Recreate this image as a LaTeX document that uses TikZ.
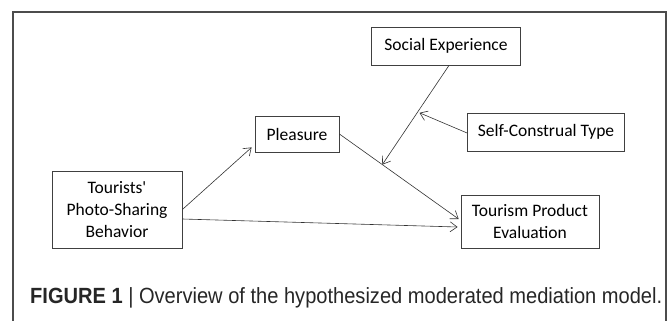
\documentclass[tikz,border=0pt]{standalone}
\usepackage{fontspec}
\setmainfont{Carlito}
\newfontfamily\capfont{Liberation Sans}
\usetikzlibrary{arrows.meta}

\begin{document}
\begin{tikzpicture}[x=1pt,y=-1pt,
    box/.style={draw=black!75,line width=0.8pt,inner sep=0pt,align=center,
                font=\fontsize{17.5}{22}\selectfont},
    link/.style={draw=black!80,line width=0.6pt,-{Straight Barb[length=7pt,width=10pt]}}]
    \useasboundingbox (0,0) rectangle (672,321);

    % outer frame
    \draw[black!70,line width=1.2pt] (13,330) -- (13,12) -- (666,12) -- (666,330);

    \node[box,minimum width=149pt,minimum height=38pt] (soc) at (446,46) {Social Experience};
    \node[box,minimum width=84pt,minimum height=36pt] (ple) at (297,134) {Pleasure};
    \node[box,minimum width=157pt,minimum height=38pt] (sct) at (546,132) {Self-Construal Type};
    \node[box,minimum width=130pt,minimum height=77pt] (tps) at (117,209.5)
        {Tourists\textquotesingle\\Photo-Sharing\\Behavior};
    \node[box,minimum width=138pt,minimum height=53pt] (tpe) at (530,221.5) {Tourism Product\\Evaluation};

    \draw[link] (tps.east) -- ([shift={(-3,-5)}]ple.south west);
    \draw[link] ([yshift=-9.5pt]tps.east) -- ([shift={(-3,5.5)}]tpe.west);
    \draw[link] (ple.east) -- coordinate[pos=0.36] (m1) ([shift={(-2,-2.5)}]tpe.west);
    \draw[link] ([xshift=3pt]soc.south) -- coordinate[pos=0.47] (m2) (m1);
    \draw[link,shorten >=2pt] ([yshift=-1pt]sct.west) -- (m2);

    \node[anchor=base west,inner sep=0pt,text=black!85,
          font=\capfont\fontsize{22}{26}\selectfont] (cap) at (30,303)
        {\resizebox{632pt}{\height}{\textbf{FIGURE 1} | Overview of the hypothesized moderated mediation model.}};
\end{tikzpicture}
\end{document}
